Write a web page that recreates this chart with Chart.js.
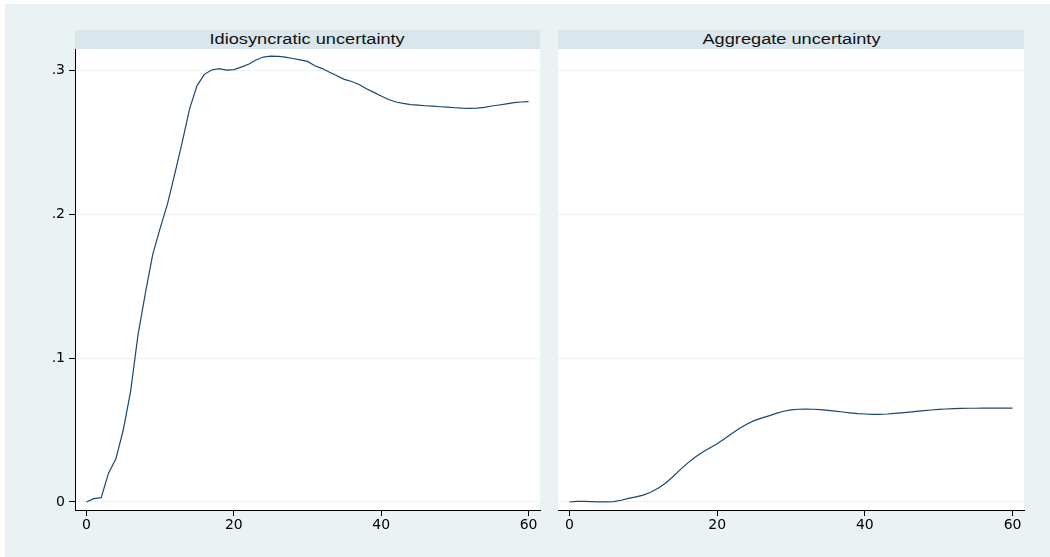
<!DOCTYPE html>
<html>
<head>
<meta charset="utf-8">
<script src="https://cdn.jsdelivr.net/npm/chart.js@4"></script>
<style>
  body { margin: 0; background: #fff; width: 1050px; height: 557px; overflow: hidden; position: relative; font-family: "Liberation Sans", Arial, sans-serif; }
  #bg { position: absolute; left: 5px; top: 4px; width: 1045px; height: 553px; background: #eaf2f3; }
  .strip { position: absolute; top: 30px; height: 19px; background: #d9e6eb; text-align: center; line-height: 19px; font-size: 14px; color: #111; overflow: hidden; }
  .strip span { display: inline-block; transform: scaleX(1.3); }
  .plot { position: absolute; top: 49px; }
</style>
</head>
<body>
<div id="bg"></div>
<div class="strip" style="left:75px;width:465px"><span>Idiosyncratic uncertainty</span></div>
<div class="strip" style="left:558px;width:466px"><span>Aggregate uncertainty</span></div>
<canvas id="left" class="plot" style="left:30px" width="515" height="491"></canvas>
<canvas id="right" class="plot" style="left:558px" width="472" height="491"></canvas>
<script>
// horizon (x axis)
var horizon = [0,1,2,3,4,5,6,7,8,9,10,11,12,13,14,15,16,17,18,19,20,
  21,22,23,24,25,26,27,28,29,30,31,32,33,34,35,36,37,38,39,40,
  41,42,43,44,45,46,47,48,49,50,51,52,53,54,55,56,57,58,59,60];

// idiosyncratic uncertainty response
var idioVals = [0,0.0023,0.003,0.020,0.030,0.050,0.077,0.116,0.145,0.172,0.190,
  0.207,0.228,0.250,0.273,0.289,0.297,0.300,0.301,0.300,0.3003,
  0.302,0.304,0.307,0.309,0.3097,0.3095,0.309,0.308,0.307,0.306,
  0.303,0.301,0.2985,0.296,0.2935,0.292,0.290,0.287,0.2845,0.282,
  0.2795,0.2778,0.2768,0.276,0.2756,0.2752,0.2749,0.2745,0.2742,0.2738,
  0.2735,0.2734,0.2736,0.274,0.275,0.2757,0.2765,0.2773,0.2778,0.278];

// aggregate uncertainty response
var aggVals = [0,0.0004,0.0004,0.0002,0.0001,0.0001,0.0003,0.0012,0.0025,0.0036,0.0048,
  0.0068,0.0095,0.013,0.0175,0.0225,0.027,0.031,0.0345,0.0375,0.0405,
  0.044,0.0475,0.051,0.054,0.0565,0.0582,0.0598,0.0615,0.063,0.064,
  0.0644,0.0645,0.0644,0.0641,0.0636,0.0631,0.0625,0.0619,0.0614,0.0611,
  0.0609,0.0609,0.0611,0.0615,0.0619,0.0624,0.0629,0.0634,0.0639,0.0643,
  0.0646,0.0648,0.065,0.0651,0.0651,0.0652,0.0652,0.0652,0.0652,0.0652];

var xTicks = [0, 20, 40, 60];
var yTicks = [0, 0.1, 0.2, 0.3];
var yLabels = ['0', '.1', '.2', '.3'];

var lineColor = '#1a476f';
var gridColor = '#eaf2f3';
var tickFont = { family: 'DejaVu Sans', size: 14 };

var whiteArea = {
  id: 'whiteArea',
  beforeDraw: function (chart) {
    var a = chart.chartArea, ctx = chart.ctx;
    ctx.save();
    ctx.fillStyle = '#fff';
    ctx.fillRect(a.left, a.top, a.right - a.left, a.bottom - a.top);
    ctx.restore();
  }
};

function makePanel(id, vals, showY, padRight) {
  var pts = horizon.map(function (h, i) { return { x: h, y: vals[i] }; });
  return new Chart(document.getElementById(id), {
    type: 'line',
    data: {
      datasets: [{
        data: pts,
        borderColor: lineColor,
        borderWidth: 1.2,
        pointRadius: 0,
        tension: 0,
        fill: false
      }]
    },
    plugins: [whiteArea],
    options: {
      responsive: false,
      animation: false,
      layout: { padding: { top: 0, left: 0, bottom: 0, right: padRight } },
      plugins: { legend: { display: false }, tooltip: { enabled: false } },
      scales: {
        x: {
          type: 'linear',
          min: -1.55,
          max: 61.55,
          afterBuildTicks: function (s) { s.ticks = xTicks.map(function (v) { return { value: v }; }); },
          afterFit: function (s) { s.height = 30; s.paddingLeft = 0; s.paddingRight = 0; },
          grid: { drawOnChartArea: false, drawTicks: true, tickLength: 6, tickColor: '#000' },
          border: { display: true, color: '#000', width: 1 },
          ticks: { color: '#000', font: tickFont, padding: 1, maxRotation: 0, autoSkip: false }
        },
        y: {
          type: 'linear',
          min: -0.00556,
          max: 0.3146,
          afterBuildTicks: function (s) { s.ticks = yTicks.map(function (v) { return { value: v }; }); },
          afterFit: function (s) { s.width = showY ? 45 : 0; s.paddingTop = 0; s.paddingBottom = 0; },
          grid: { color: gridColor, lineWidth: 1, drawTicks: showY, tickLength: 6, tickColor: '#000' },
          border: { display: showY, color: '#000', width: 1 },
          ticks: {
            display: showY,
            color: '#000',
            font: tickFont,
            padding: 4,
            callback: function (v) {
              var i = yTicks.indexOf(v);
              return i >= 0 ? yLabels[i] : '';
            }
          }
        }
      }
    }
  });
}

makePanel('left', idioVals, true, 5);
makePanel('right', aggVals, false, 6);
</script>
</body>
</html>
